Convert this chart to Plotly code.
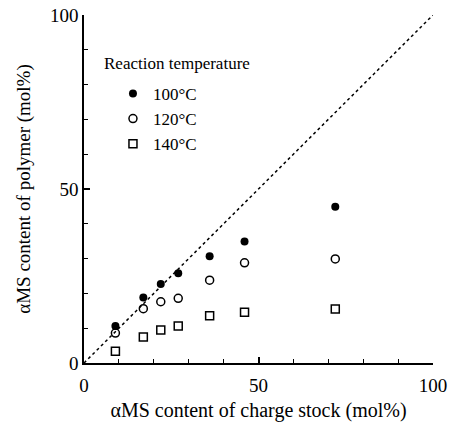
import plotly.graph_objects as go

# alphaMS content of charge stock (mol%)
charge = [9, 17, 22, 27, 36, 46, 72]

# alphaMS content of polymer (mol%) per reaction temperature
polymer_100 = [10.6, 18.8, 22.7, 25.8, 30.7, 34.9, 44.9]
polymer_120 = [8.6, 15.6, 17.6, 18.6, 23.8, 28.8, 29.9]
polymer_140 = [3.4, 7.5, 9.5, 10.6, 13.6, 14.6, 15.5]

diag = [0, 100]

FONT = "Liberation Serif"

fig = go.Figure()

fig.add_trace(go.Scatter(
    x=diag, y=diag, mode="lines",
    line=dict(color="black", width=1.5, dash="dot"),
    showlegend=False, hoverinfo="skip",
))

series = [
    ("100°C", polymer_100, dict(symbol="circle", size=8, color="black")),
    ("120°C", polymer_120, dict(symbol="circle-open", size=8, color="black",
                                line=dict(width=1.5, color="black"))),
    ("140°C", polymer_140, dict(symbol="square-open", size=8, color="black",
                                line=dict(width=1.5, color="black"))),
]
for name, ys, marker in series:
    fig.add_trace(go.Scatter(
        x=charge, y=ys, mode="markers", name=name,
        marker=marker, legendgroup=name, cliponaxis=False,
    ))

axis_common = dict(
    range=[0, 100],
    dtick=50,
    ticks="inside",
    ticklen=6,
    tickwidth=1.5,
    tickcolor="black",
    minor=dict(dtick=10, ticks="inside", ticklen=4, tickwidth=1.2, tickcolor="black"),
    showline=True,
    linecolor="black",
    linewidth=1.5,
    showgrid=False,
    zeroline=False,
    automargin=False,
    ticklabeloverflow="allow",
    tickfont=dict(family=FONT, size=19, color="black"),
)

fig.update_layout(
    width=450,
    height=422,
    margin=dict(l=84, r=17, t=15, b=59),
    paper_bgcolor="white",
    plot_bgcolor="white",
    font=dict(family=FONT, color="black"),
    xaxis=dict(
        **axis_common,
        ticklabelstandoff=4,
        title=dict(text="αMS content of charge stock (mol%)",
                   font=dict(family=FONT, size=20), standoff=10),
    ),
    yaxis=dict(
        **axis_common,
        title=dict(text="αMS content of polymer (mol%)",
                   font=dict(family=FONT, size=19), standoff=14),
    ),
    legend=dict(
        x=0.083, y=0.825, xanchor="left", yanchor="top",
        font=dict(family=FONT, size=17),
        bgcolor="rgba(0,0,0,0)",
        traceorder="grouped",
        tracegroupgap=0,
        itemwidth=30,
    ),
    annotations=[dict(
        text="Reaction temperature", x=0.052, y=0.86,
        xref="paper", yref="paper", xanchor="left", yanchor="middle",
        showarrow=False, font=dict(family=FONT, size=17),
    )],
)

# drop the default 8px body margin so the figure fills the window
fig.write_html("out.html", config={"displayModeBar": False},
               post_script="document.body.style.margin='0';")
